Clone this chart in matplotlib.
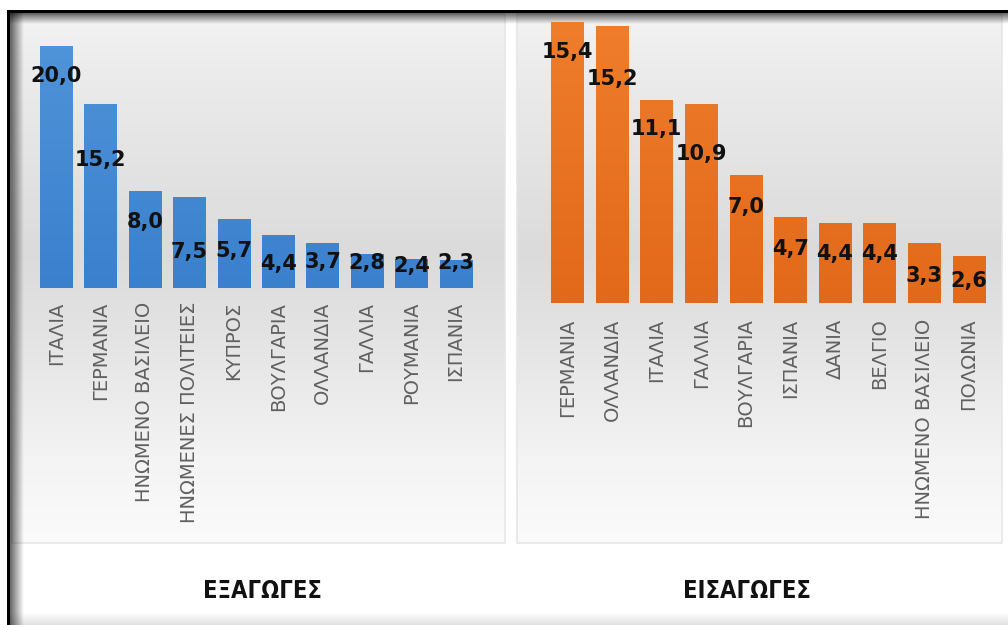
import numpy as np
import matplotlib
matplotlib.use("Agg")
import matplotlib.pyplot as plt
from matplotlib.colors import LinearSegmentedColormap

# ---------------- data ----------------
exports_countries = ["ΙΤΑΛΙΑ", "ΓΕΡΜΑΝΙΑ", "ΗΝΩΜΕΝΟ ΒΑΣΙΛΕΙΟ", "ΗΝΩΜΕΝΕΣ ΠΟΛΙΤΕΙΕΣ",
                     "ΚΥΠΡΟΣ", "ΒΟΥΛΓΑΡΙΑ", "ΟΛΛΑΝΔΙΑ", "ΓΑΛΛΙΑ", "ΡΟΥΜΑΝΙΑ", "ΙΣΠΑΝΙΑ"]
exports_values = [20.0, 15.2, 8.0, 7.5, 5.7, 4.4, 3.7, 2.8, 2.4, 2.3]

imports_countries = ["ΓΕΡΜΑΝΙΑ", "ΟΛΛΑΝΔΙΑ", "ΙΤΑΛΙΑ", "ΓΑΛΛΙΑ", "ΒΟΥΛΓΑΡΙΑ",
                     "ΙΣΠΑΝΙΑ", "ΔΑΝΙΑ", "ΒΕΛΓΙΟ", "ΗΝΩΜΕΝΟ ΒΑΣΙΛΕΙΟ", "ΠΟΛΩΝΙΑ"]
imports_values = [15.4, 15.2, 11.1, 10.9, 7.0, 4.7, 4.4, 4.4, 3.3, 2.6]

exports_title = "ΕΞΑΓΩΓΕΣ"
imports_title = "ΕΙΣΑΓΩΓΕΣ"

# layout: how far (pixels) each value label sits below its bar top
exports_label_drop = [30, 56, 31, 55, 32, 29, 19, 9, 7, 3]
imports_label_drop = [30, 53, 29, 50, 32, 32, 31, 31, 33, 25]

W, H = 1008, 625
fig = plt.figure(figsize=(W / 100, H / 100), dpi=100)
fig.patch.set_facecolor("white")


def px_rect(x0, y0, x1, y1):
    """pixel box (top-left origin) -> figure fraction rect"""
    return [x0 / W, 1 - y1 / H, (x1 - x0) / W, (y1 - y0) / H]


# ---------------- background layer ----------------
bg = fig.add_axes([0, 0, 1, 1])
bg.set_xlim(0, W)
bg.set_ylim(H, 0)
bg.axis("off")

panel_cmap = LinearSegmentedColormap.from_list(
    "panel",
    [(0.0, "#f3f3f3"), (0.10, "#ececec"), (0.45, "#dbdbdb"),
     (0.60, "#e3e3e3"), (0.85, "#f4f4f4"), (1.0, "#fbfbfb")])
grad = np.linspace(0, 1, 256).reshape(-1, 1)
for (x0, x1) in [(12, 505), (517, 1002)]:
    bg.imshow(grad, extent=[x0, x1, 543, 14], cmap=panel_cmap, aspect="auto",
              interpolation="bilinear", zorder=1)
    bg.plot([x0, x0, x1, x1, x0], [14, 543, 543, 14, 14], color="#e6e6e6", lw=1.2, zorder=2)

# black frame with inner shadow
bg.fill_between([7, W], 10, 13, color="black", zorder=5, lw=0)
bg.fill_between([7, 10], 10, H, color="black", zorder=5, lw=0)
shadow_cmap = LinearSegmentedColormap.from_list("sh", [(0, (0, 0, 0, 0.6)), (1, (0, 0, 0, 0.0))])
soft_cmap = LinearSegmentedColormap.from_list("sh2", [(0, (0, 0, 0, 0.0)), (1, (0, 0, 0, 0.12))])
bg.imshow(np.linspace(0, 1, 64).reshape(-1, 1), extent=[10, W, 24, 13], cmap=shadow_cmap,
          aspect="auto", zorder=4, interpolation="bilinear")
bg.imshow(np.linspace(0, 1, 64).reshape(1, -1), extent=[10, 24, H, 13], cmap=shadow_cmap,
          aspect="auto", zorder=4, interpolation="bilinear")
bg.imshow(np.linspace(0, 1, 64).reshape(-1, 1), extent=[10, W, H, 612],
          cmap=soft_cmap, aspect="auto", zorder=4, interpolation="bilinear")
bg.set_xlim(0, W)
bg.set_ylim(H, 0)


def draw_panel(rect_px, xlim, ylim, countries, values, drops, c_top, c_bot, label_pad):
    ax = fig.add_axes(px_rect(*rect_px))
    ax.patch.set_visible(False)
    x = np.arange(len(values))
    bars = ax.bar(x, values, width=0.73, color=c_bot, zorder=2)
    cmap = LinearSegmentedColormap.from_list("bar", [c_bot, c_top])
    g = np.linspace(0, 1, 128).reshape(-1, 1)
    for b in bars:
        im = ax.imshow(g, extent=[b.get_x(), b.get_x() + b.get_width(), 0, ylim[1]],
                       origin="lower", cmap=cmap, aspect="auto", zorder=3,
                       interpolation="bilinear")
        im.set_clip_path(b)
    for xi, v, d in zip(x, values, drops):
        ax.annotate(f"{v:.1f}".replace(".", ","), xy=(xi, v), xytext=(0, -d),
                    textcoords="offset pixels", ha="center", va="center",
                    fontsize=15, fontweight="bold", color="#111111", zorder=5)
    ax.set_xlim(*xlim)
    ax.set_ylim(*ylim)
    ax.set_xticks(x)
    ax.set_xticklabels(countries, rotation=90, ha="center", va="top",
                       fontsize=14, color="#606060")
    ax.tick_params(axis="x", length=0, pad=label_pad)
    ax.set_yticks([])
    for s in ax.spines.values():
        s.set_visible(False)
    return ax


# left panel: baseline at y=288 px, top at 14 px
draw_panel((10, 14, 505, 288), (-1.04, 10.11), (0, 22.64),
           exports_countries, exports_values, exports_label_drop,
           "#5296da", "#3a80cd", 10)
# right panel: baseline at y=303 px
draw_panel((517, 14, 1005, 303), (-1.13, 9.81), (0, 15.84),
           imports_countries, imports_values, imports_label_drop,
           "#ef7e2c", "#e2691a", 11)

fig.text(262 / W, 1 - 591 / H, exports_title, ha="center", va="center",
         fontsize=17, fontweight="bold", fontstretch="condensed", color="#111111")
fig.text(747 / W, 1 - 591 / H, imports_title, ha="center", va="center",
         fontsize=17, fontweight="bold", fontstretch="condensed", color="#111111")

fig.savefig("out.png", dpi=100)
